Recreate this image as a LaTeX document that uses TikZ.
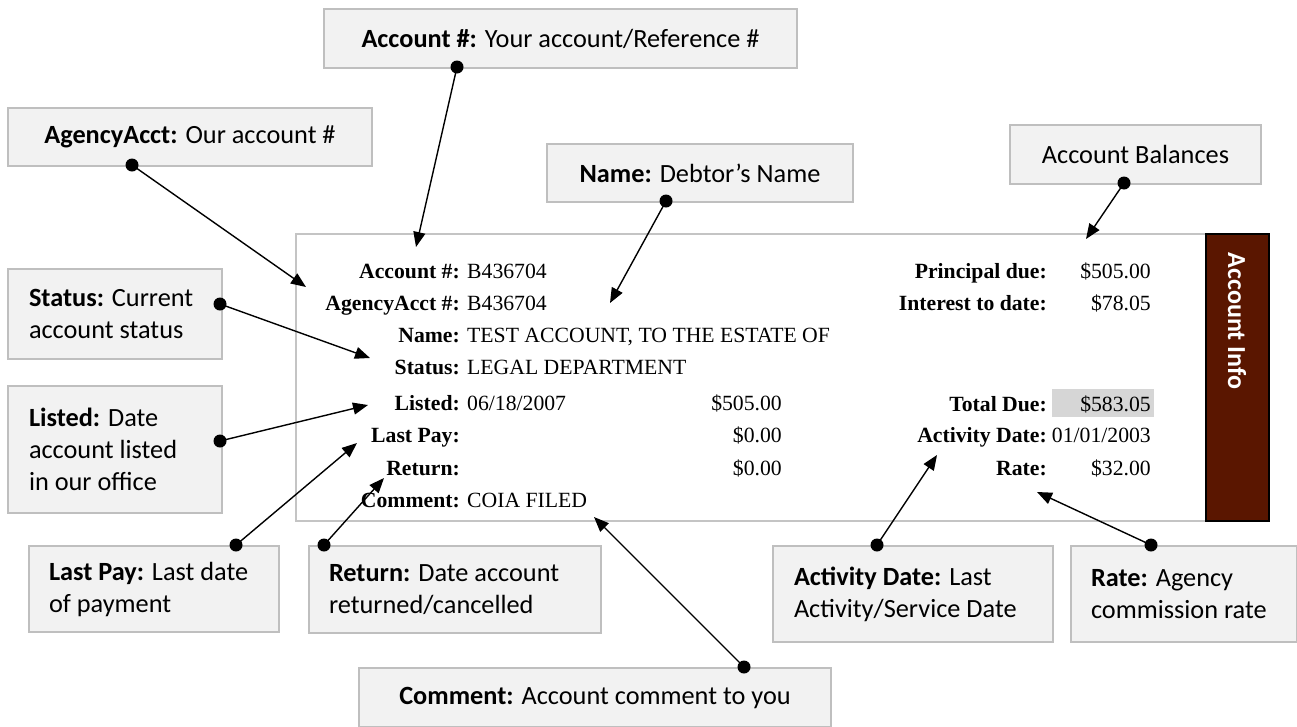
\documentclass[tikz,border=0pt]{standalone}
\usepackage{fontspec}
\setmainfont{Liberation Serif}
\newfontfamily\calib{Carlito}
\usetikzlibrary{arrows.meta}
\definecolor{boxfill}{HTML}{F2F2F2}
\definecolor{boxline}{HTML}{BFBFBF}
\definecolor{panelline}{HTML}{C4C4C4}
\definecolor{barmaroon}{HTML}{5A1600}
\definecolor{duegray}{HTML}{D6D6D6}
\begin{document}
\begin{tikzpicture}[x=1pt,y=-1pt,
  cbox/.style={draw=boxline, line width=2pt, fill=boxfill, inner sep=0pt, anchor=north west,
    font=\calib\fontsize{26.3}{32}\selectfont, align=center},
  lbox/.style={cbox, align=flush left, inner xsep=20pt},
  lab/.style={font=\fontsize{21.7}{26}\selectfont\bfseries, anchor=base east, inner sep=0pt},
  val/.style={font=\fontsize{21.7}{26}\selectfont, anchor=base west, inner sep=0pt},
  num/.style={font=\fontsize{21.7}{26}\selectfont, anchor=base east, inner sep=0pt},
  arr/.style={-{Triangle[length=15pt,width=12pt]}, line width=1.4pt},
  blob/.style={fill=black}
]
\useasboundingbox (0,0) rectangle (1297,726);

% panel and side bar
\draw[panelline, line width=1.3pt] (296,234) rectangle (1206,521);
\draw[black, line width=2pt, fill=barmaroon] (1206,234) rectangle (1269,521);
\node[rotate=-90, text=white, font=\calib\bfseries\fontsize{26}{32}\selectfont, inner sep=0pt] (info) at (1237,321) {Account Info};

% total due highlight
\fill[duegray] (1052,389) rectangle (1154,417);

% left column of the statement
\node[lab] (l1) at (460,278) {Account \#:};
\node[lab] (l2) at (460,310) {AgencyAcct \#:};
\node[lab] (l3) at (460,342) {Name:};
\node[lab] (l4) at (460,374) {Status:};
\node[lab] (l5) at (460,410) {Listed:};
\node[lab] (l6) at (460,442) {Last Pay:};
\node[lab] (l7) at (460,475) {Return:};
\node[lab] (l8) at (460,507) {Comment:};
\node[val] (v1) at (467,278) {B436704};
\node[val] (v2) at (467,310) {B436704};
\node[val] (v3) at (467,342) {TEST ACCOUNT, TO THE ESTATE OF};
\node[val] (v4) at (467,374) {LEGAL DEPARTMENT};
\node[val] (v5) at (467,410) {06/18/2007};
\node[val] (v8) at (467,507) {COIA FILED};
\node[num] (n5) at (782,410) {\$505.00};
\node[num] (n6) at (782,442) {\$0.00};
\node[num] (n7) at (782,475) {\$0.00};

% right column of the statement
\node[lab] (r1) at (1047,278) {Principal due:};
\node[lab] (r2) at (1047,310) {Interest to date:};
\node[lab] (r3) at (1047,411) {Total Due:};
\node[lab] (r4) at (1047,442) {Activity Date:};
\node[lab] (r5) at (1047,475) {Rate:};
\node[num] (rv1) at (1151,278) {\$505.00};
\node[num] (rv2) at (1151,310) {\$78.05};
\node[num] (rv3) at (1151,411) {\$583.05};
\node[num] (rv4) at (1151,442) {01/01/2003};
\node[num] (rv5) at (1151,475) {\$32.00};

% callout boxes
\node[cbox, minimum width=473pt, minimum height=59pt] (bacc) at (323,8) {\textbf{Account \#:} Your account/Reference \#};
\node[cbox, minimum width=364pt, minimum height=58pt] (bagy) at (7,107) {\textbf{AgencyAcct:} Our account \#};
\node[cbox, minimum width=306pt, minimum height=58pt] (bnam) at (546,143) {\textbf{Name:} Debtor’s Name};
\node[cbox, minimum width=251pt, minimum height=59pt] (bbal) at (1009,124) {Account Balances};
\node[lbox, text width=172pt, minimum height=90pt, inner xsep=21pt] (bsta) at (7,268) {\textbf{Status:} Current\\account status};
\node[lbox, text width=172pt, minimum height=127pt, inner xsep=21pt] (blis) at (7,385) {\textbf{Listed:} Date\\account listed\\in our office};
\node[lbox, text width=210pt, minimum height=86pt] (blpy) at (28,545) {\textbf{Last Pay:} Last date\\of payment};
\node[lbox, text width=252pt, minimum height=87pt] (bret) at (308,545) {\textbf{Return:} Date account\\returned/cancelled};
\node[lbox, text width=238pt, minimum height=96pt, inner xsep=21pt] (bact) at (772,545) {\textbf{Activity Date:} Last\\Activity/Service Date};
\node[lbox, text width=186pt, minimum height=96pt] (brat) at (1070,545) {\textbf{Rate:} Agency\\commission rate};
\node[cbox, minimum width=472pt, minimum height=59pt] (bcom) at (358,667) {\textbf{Comment:} Account comment to you};

% connector ends
\coordinate (dAcc) at (457,67);   \coordinate (tAcc) at (416,247);
\coordinate (dAgy) at (132,165);  \coordinate (tAgy) at (306,287);
\coordinate (dNam) at (666,201);  \coordinate (tNam) at (610,303);
\coordinate (dBal) at (1124,183); \coordinate (tBal) at (1086,239);
\coordinate (dSta) at (220,304);  \coordinate (tSta) at (370,358);
\coordinate (dLis) at (220,441);  \coordinate (tLis) at (368,405);
\coordinate (dLpy) at (236,545);  \coordinate (tLpy) at (357,443);
\coordinate (dRet) at (324,545);  \coordinate (tRet) at (384,478);
\coordinate (dAct) at (877,545);  \coordinate (tAct) at (937,455);
\coordinate (dRat) at (1151,545); \coordinate (tRat) at (1037,492);
\coordinate (dCom) at (744,667);  \coordinate (tCom) at (594,517);

\foreach \n in {Acc,Agy,Nam,Bal,Sta,Lis,Lpy,Ret,Act,Rat,Com}{
  \draw[arr] (d\n) -- (t\n);
  \fill[blob] (d\n) circle[radius=6.5pt];
}
\end{tikzpicture}
\end{document}
